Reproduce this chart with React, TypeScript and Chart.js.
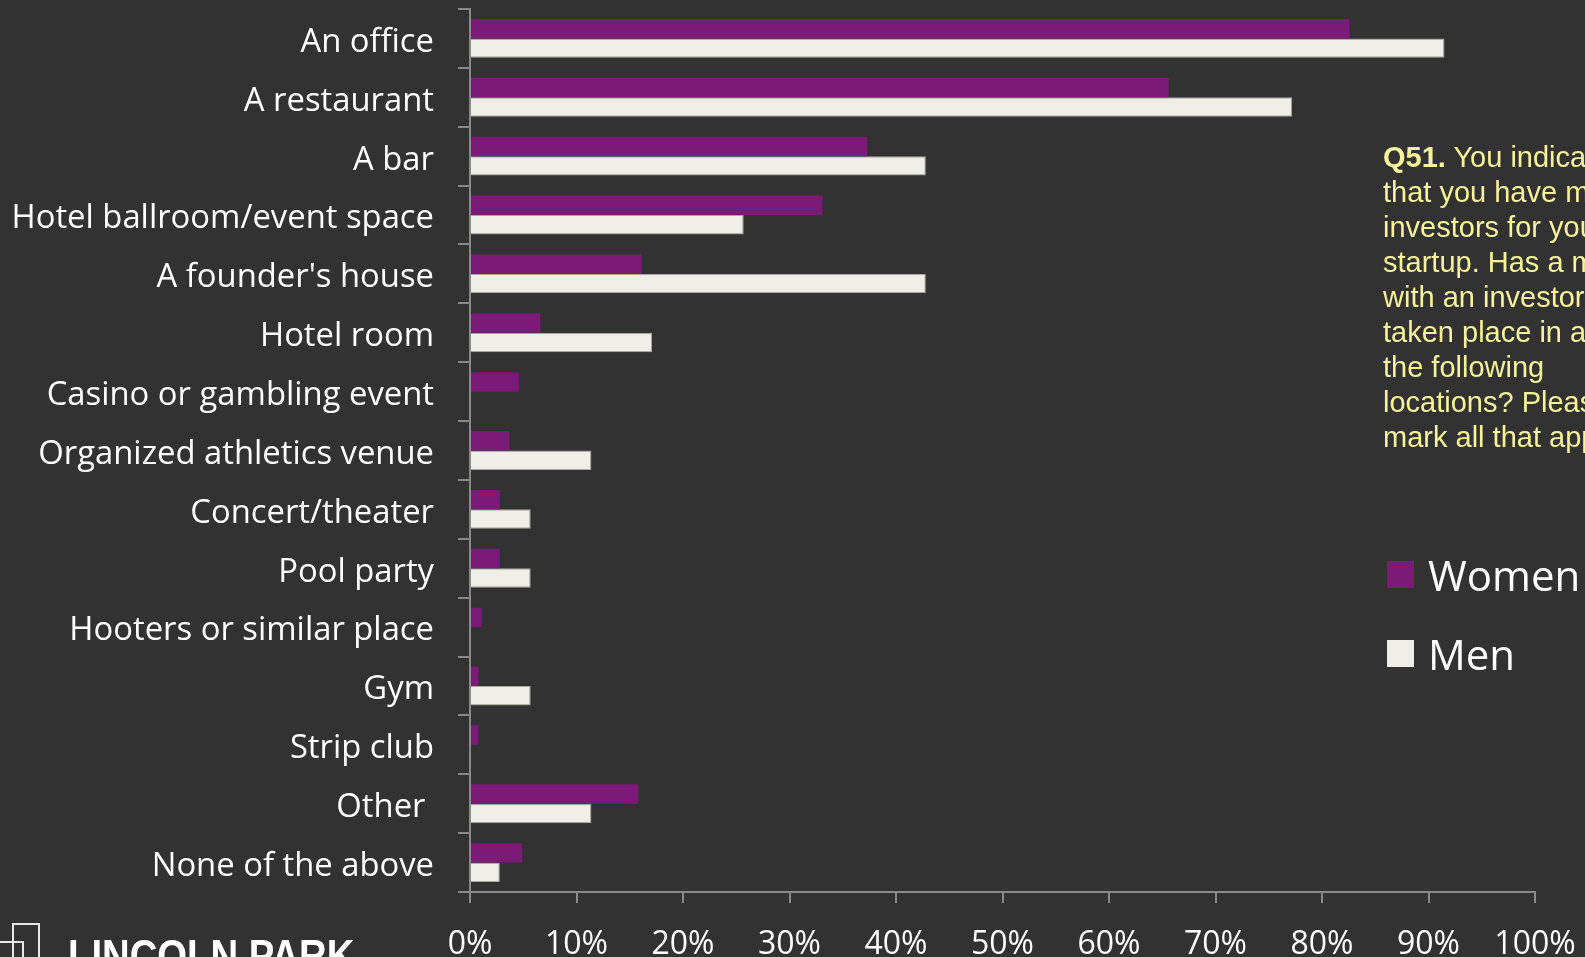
import React, { useEffect, useRef } from "react";
import { Chart, registerables } from "chart.js";

Chart.register(...registerables);

const categories = [
  "An office",
  "A restaurant",
  "A bar",
  "Hotel ballroom/event space",
  "A founder's house",
  "Hotel room",
  "Casino or gambling event",
  "Organized athletics venue",
  "Concert/theater",
  "Pool party",
  "Hooters or similar place",
  "Gym",
  "Strip club",
  "Other ",
  "None of the above",
];

const womenValues = [82.6, 65.6, 37.3, 33.1, 16.1, 6.6, 4.6, 3.7, 2.8, 2.8, 1.1, 0.8, 0.8, 15.8, 4.9];
const menValues = [91.5, 77.2, 42.8, 25.7, 42.8, 17.1, 0, 11.4, 5.7, 5.7, 0, 5.7, 0, 11.4, 2.8];

const seriesNames = ["Women", "Men"];
const seriesColors = ["#7B1A77", "#F0EFE7"];

const questionLines = [
  "You indicated",
  "that you have met",
  "investors for your",
  "startup. Has a meeting",
  "with an investor ever",
  "taken place in any of",
  "the following",
  "locations? Please",
  "mark all that apply.",
];

const BG = "#323232";
const AXIS = "#8a8a8a";

export default function App() {
  const canvasRef = useRef<HTMLCanvasElement | null>(null);

  useEffect(() => {
    let chart: Chart | null = null;
    let cancelled = false;
    const make = () => {
      if (cancelled || !canvasRef.current) return;
      chart = new Chart(canvasRef.current, {
        type: "bar",
        data: {
          labels: categories,
          datasets: [
            {
              label: seriesNames[0],
              data: womenValues,
              backgroundColor: seriesColors[0],
              borderColor: "#6c1468",
              borderWidth: 0,
              categoryPercentage: 0.66,
              barPercentage: 1,
            },
            {
              label: seriesNames[1],
              data: menValues,
              backgroundColor: seriesColors[1],
              borderColor: "#a8a8a4",
              borderWidth: 1,
              categoryPercentage: 0.66,
              barPercentage: 1,
            },
          ],
        },
        options: {
          indexAxis: "y",
          animation: false,
          responsive: false,
          maintainAspectRatio: false,
          devicePixelRatio: 1,
          layout: { padding: { top: 9, right: 50, left: 0, bottom: 0 } },
          plugins: {
            legend: { display: false },
            tooltip: { enabled: false },
          },
          scales: {
            y: {
              type: "category",
              offset: true,
              grid: {
                offset: true,
                drawOnChartArea: false,
                drawTicks: true,
                tickLength: 12,
                color: AXIS,
                lineWidth: 2,
              },
              border: { color: AXIS, width: 2 },
              ticks: {
                color: "#ffffff",
                font: { family: "'Open Sans'", size: 32.8 },
                padding: 24,
                labelOffset: 4,
                autoSkip: false,
              },
              afterFit: (scale: any) => {
                scale.width = 470;
                scale.paddingTop = 0;
                scale.paddingBottom = 0;
              },
            },
            x: {
              type: "linear",
              min: 0,
              max: 100,
              grid: {
                drawOnChartArea: false,
                drawTicks: true,
                tickLength: 11,
                color: AXIS,
                lineWidth: 2,
              },
              border: { color: AXIS, width: 2 },
              ticks: {
                stepSize: 10,
                color: "#ffffff",
                font: { family: "'Open Sans'", size: 32 },
                padding: 23,
                maxRotation: 0,
                callback: (v: any) => v + "%",
              },
              afterFit: (scale: any) => {
                scale.height = 65;
                scale.paddingLeft = 0;
                scale.paddingRight = 0;
              },
            },
          },
        },
      });
    };
    const fontsApi = (document as any).fonts;
    if (fontsApi && fontsApi.load) {
      fontsApi.load("32px 'Open Sans'").then(make, make);
    } else {
      make();
    }
    return () => {
      cancelled = true;
      if (chart) chart.destroy();
    };
  }, []);

  return (
    <div
      style={{
        position: "fixed",
        left: 0,
        top: 0,
        width: 1585,
        height: 957,
        background: BG,
        overflow: "hidden",
      }}
    >
      <canvas
        ref={canvasRef}
        width={1585}
        height={957}
        style={{ position: "absolute", left: 0, top: 0, width: 1585, height: 957 }}
      />
      <div
        style={{
          position: "absolute",
          left: 1383,
          top: 140,
          width: 400,
          fontFamily: "'Liberation Sans', Arial, sans-serif",
          fontSize: 29,
          lineHeight: "35px",
          color: "#F7F39B",
          whiteSpace: "nowrap",
        }}
      >
        <span style={{ fontWeight: "bold" }}>Q51.</span> {questionLines[0]}
        {questionLines.slice(1).map((l, i) => (
          <div key={i}>{l}</div>
        ))}
      </div>
      {seriesNames.map((name, i) => (
        <div
          key={name}
          style={{
            position: "absolute",
            left: 1387,
            top: 561 + i * 79,
            height: 27,
            display: "flex",
            alignItems: "center",
            whiteSpace: "nowrap",
          }}
        >
          <div style={{ width: 27, height: 27, background: seriesColors[i] }} />
          <div
            style={{
              marginLeft: 14,
              fontFamily: "'Open Sans'",
              fontSize: 42,
              color: "#ffffff",
              lineHeight: "27px",
            }}
          >
            {name}
          </div>
        </div>
      ))}
      <div
        style={{
          position: "absolute",
          left: 12,
          top: 923,
          width: 24,
          height: 60,
          border: "2px solid #e8e8e8",
        }}
      />
      <div
        style={{
          position: "absolute",
          left: -4,
          top: 941,
          width: 24,
          height: 40,
          border: "2px solid #e8e8e8",
        }}
      />
      <div
        style={{
          position: "absolute",
          left: 68,
          top: 931,
          fontFamily: "'Liberation Sans', sans-serif",
          fontWeight: "bold",
          fontSize: 44,
          lineHeight: "50px",
          color: "#ffffff",
          whiteSpace: "nowrap",
          transform: "scaleX(0.87)",
          transformOrigin: "0 0",
        }}
      >
        LINCOLN PARK
      </div>
    </div>
  );
}
